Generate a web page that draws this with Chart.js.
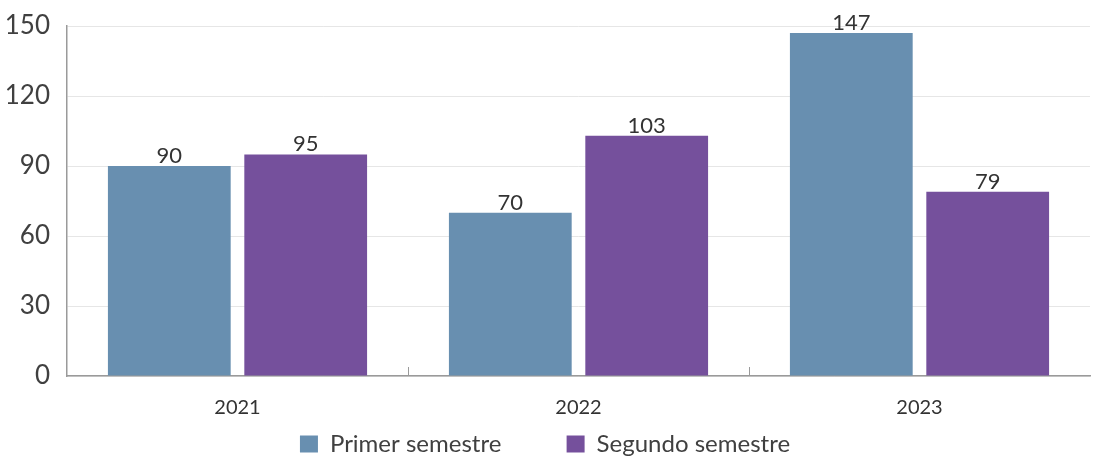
<!DOCTYPE html>
<html>
<head>
<meta charset="utf-8">
<script src="https://cdn.jsdelivr.net/npm/chart.js@4"></script>
<style>
  html, body { margin: 0; padding: 0; background: #fff; }
  .chart { width: 1093px; height: 456px; }
</style>
</head>
<body>
<div class="chart"><canvas></canvas></div>
<script>
const years = ["2021", "2022", "2023"];
const primerSemestre = [90, 70, 147];
const segundoSemestre = [95, 103, 79];
const yTicks = [0, 30, 60, 90, 120, 150];

const colors = {
  blue: "rgb(104, 143, 176)",
  purple: "rgb(117, 80, 156)",
  text: "#404040",
  grid: "#e6e6e6",
  axis: "#9a9a9a",
};

Chart.defaults.font.family = "Lato, 'Open Sans', sans-serif";
Chart.defaults.color = colors.text;

// value labels above each bar
const valueLabels = {
  id: "valueLabels",
  afterDatasetsDraw(chart) {
    const ctx = chart.ctx;
    ctx.save();
    ctx.font = "22px Lato";
    ctx.fillStyle = "#333";
    ctx.textAlign = "center";
    ctx.textBaseline = "bottom";
    chart.data.datasets.forEach((ds, i) => {
      chart.getDatasetMeta(i).data.forEach((bar, j) => {
        ctx.fillText(ds.data[j], bar.x, bar.y + 1);
      });
    });
    ctx.restore();
  },
};

// short ticks between categories, pointing up from the x axis
const categoryTicks = {
  id: "categoryTicks",
  afterDraw(chart) {
    const x = chart.scales.x;
    const ctx = chart.ctx;
    const bottom = chart.chartArea.bottom;
    ctx.save();
    ctx.strokeStyle = colors.axis;
    ctx.lineWidth = 1;
    for (let i = 1; i < years.length; i++) {
      const px = Math.round((x.getPixelForValue(i - 1) + x.getPixelForValue(i)) / 2) + 0.5;
      ctx.beginPath();
      ctx.moveTo(px, bottom - 9);
      ctx.lineTo(px, bottom);
      ctx.stroke();
    }
    ctx.restore();
  },
};

const ctx = document.querySelector(".chart canvas").getContext("2d");

new Chart(ctx, {
  type: "bar",
  data: {
    labels: years,
    datasets: [
      {
        label: "Primer semestre",
        data: primerSemestre,
        backgroundColor: colors.blue,
        categoryPercentage: 0.8,
        barPercentage: 0.9,
      },
      {
        label: "Segundo semestre",
        data: segundoSemestre,
        backgroundColor: colors.purple,
        categoryPercentage: 0.8,
        barPercentage: 0.9,
      },
    ],
  },
  options: {
    animation: false,
    responsive: true,
    maintainAspectRatio: false,
    layout: {
      padding: { top: 26, right: 3, left: 0, bottom: -10 },
    },
    plugins: {
      tooltip: { enabled: false },
      legend: {
        position: "bottom",
        labels: {
          boxWidth: 18,
          boxHeight: 17,
          padding: 10,
          font: { size: 24 },
          color: colors.text,
          // widen the gap after the first entry without adding vertical space
          generateLabels: (chart) => {
            const items = Chart.defaults.plugins.legend.labels.generateLabels(chart);
            items[0].text += " ".repeat(9);
            return items;
          },
        },
      },
    },
    scales: {
      x: {
        grid: { display: false },
        border: { color: colors.axis, width: 1.5 },
        ticks: { font: { size: 20 }, color: "#333", padding: 12 },
        afterFit: (axis) => {
          axis.height = 46;
        },
      },
      y: {
        min: 0,
        max: 150,
        afterBuildTicks: (axis) => {
          axis.ticks = yTicks.map((v) => ({ value: v }));
        },
        afterFit: (axis) => {
          axis.width = 67;
        },
        grid: { color: colors.grid, drawTicks: false },
        border: { color: colors.axis, width: 1.5 },
        ticks: { font: { size: 26, lineHeight: 0.7 }, color: colors.text, padding: 17 },
      },
    },
  },
  plugins: [valueLabels, categoryTicks],
});
</script>
</body>
</html>
